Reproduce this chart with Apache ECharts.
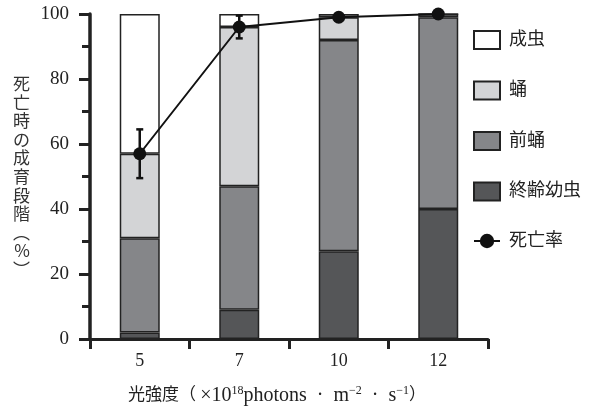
<!DOCTYPE html>
<html>
<head>
<meta charset="utf-8">
<script src="https://cdn.jsdelivr.net/npm/echarts@6/dist/echarts.min.js"></script>
<style>
  html, body { margin: 0; padding: 0; background: #fff; }
  #chart { width: 591px; height: 406px; }
</style>
</head>
<body>
<div id="chart"></div>
<script>
// 光強度ごとのデータ
const categories = ['5', '7', '10', '12'];
const larva = [2, 9, 27, 40];      // 終齢幼虫
const prepupa = [29, 38, 65, 59];  // 前蛹
const pupa = [26, 49, 7, 1];       // 蛹
const adult = [43, 4, 1, 0];       // 成虫
const mortality = [57, 96, 99, 100];
const mortalityErr = [7.5, 3.5, 0, 0];
const yTicks = [0, 20, 40, 60, 80, 100];

const font = "'Liberation Serif', 'Noto Sans CJK JP', serif";
const edge = '#222';

const chart = echarts.init(document.getElementById('chart'));

function barSeries(name, data, color) {
  return {
    name: name,
    type: 'bar',
    stack: 'stage',
    barWidth: 40,
    data: data,
    itemStyle: { color: color, borderColor: edge, borderWidth: 1.5 },
    emphasis: { disabled: true }
  };
}

chart.setOption({
  animation: false,
  textStyle: { fontFamily: font },
  grid: { left: 90, right: 103, top: 14, bottom: 67, outerBoundsMode: 'none', containLabel: false },
  legend: {
    orient: 'vertical',
    left: 468,
    top: 25,
    itemWidth: 26,
    itemHeight: 18,
    itemGap: 30.5,
    itemStyle: { borderWidth: 2 },
    textStyle: { fontSize: 18, lineHeight: 18, color: '#222', fontFamily: font, padding: [0, 0, 0, 4] },
    data: [
      { name: '成虫', icon: 'rect' },
      { name: '蛹', icon: 'rect' },
      { name: '前蛹', icon: 'rect' },
      { name: '終齢幼虫', icon: 'rect' },
      { name: '死亡率' }
    ]
  },
  xAxis: {
    type: 'category',
    data: categories,
    axisLine: { lineStyle: { color: edge, width: 3 } },
    axisTick: { show: true, length: 10, lineStyle: { color: edge, width: 3 } },
    axisLabel: { fontSize: 18, color: '#222', margin: 13 },
    name: '光強度（ {l|×10}{s|18}{l|photons  ·  m}{s|−2}{l|  ·  s}{s|−1}）',
    nameLocation: 'middle',
    nameGap: 46,
    nameTextStyle: {
      fontSize: 17, color: '#222', fontFamily: font, padding: [0, 24, 0, 0],
      lineHeight: 22,
      rich: {
        l: { fontSize: 20, fontFamily: font, color: '#222', lineHeight: 22 },
        s: { fontSize: 12, fontFamily: font, color: '#222', verticalAlign: 'top', lineHeight: 22 }
      }
    }
  },
  yAxis: {
    type: 'value',
    min: 0,
    max: 100,
    interval: 20,
    axisLine: { show: true, lineStyle: { color: edge, width: 3.5 } },
    axisTick: { show: true, length: 11, lineStyle: { color: edge, width: 3 } },
    minorTick: { show: true, splitNumber: 2, length: 8, lineStyle: { color: edge, width: 3 } },
    splitLine: { show: false },
    axisLabel: {
      fontSize: 19, color: '#222', margin: 21,
      formatter: v => yTicks.includes(v) ? String(v) : ''
    },
    name: '死\n亡\n時\nの\n成\n育\n段\n階\n︵\n%\n︶',
    nameLocation: 'middle',
    nameRotate: 0,
    nameGap: 60,
    nameTextStyle: { fontSize: 17, lineHeight: 18.6, color: '#333', fontFamily: "'Noto Sans CJK JP', serif" }
  },
  series: [
    barSeries('終齢幼虫', larva, '#555658'),
    barSeries('前蛹', prepupa, '#858689'),
    barSeries('蛹', pupa, '#d3d4d6'),
    barSeries('成虫', adult, '#ffffff'),
    {
      name: 'err',
      type: 'custom',
      z: 4,
      data: mortality.map((m, i) => [i, m - mortalityErr[i], m + mortalityErr[i]]),
      renderItem: function (params, api) {
        const lo = api.coord([api.value(0), api.value(1)]);
        const hi = api.coord([api.value(0), api.value(2)]);
        const x = lo[0];
        const style = { stroke: '#111', lineWidth: 2.5 };
        return {
          type: 'group',
          children: [
            { type: 'line', shape: { x1: x, y1: lo[1], x2: x, y2: hi[1] }, style: style },
            { type: 'line', shape: { x1: x - 3.5, y1: lo[1], x2: x + 3.5, y2: lo[1] }, style: style },
            { type: 'line', shape: { x1: x - 3.5, y1: hi[1], x2: x + 3.5, y2: hi[1] }, style: style }
          ]
        };
      }
    },
    {
      name: '死亡率',
      type: 'line',
      z: 5,
      data: mortality,
      symbol: 'circle',
      symbolSize: 13,
      lineStyle: { color: '#111', width: 2 },
      itemStyle: { color: '#111' },
      emphasis: { disabled: true }
    }
  ]
});
</script>
</body>
</html>
